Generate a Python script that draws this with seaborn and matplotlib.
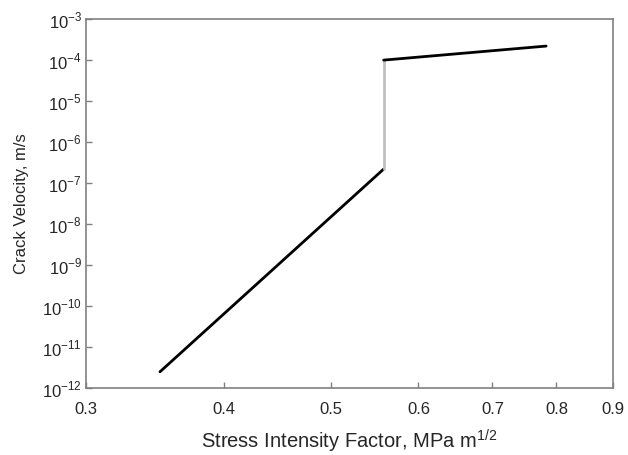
import numpy as np
import pandas as pd
import matplotlib
matplotlib.use("Agg")
import matplotlib.pyplot as plt
import seaborn as sns
from matplotlib.ticker import FixedLocator, FixedFormatter, NullLocator

# dati
k_low = [0.35, 0.558]
v_low = [2.5e-12, 2.2e-7]
k_jump = [0.558, 0.558]
v_jump = [2.2e-7, 1.0e-4]
k_high = [0.558, 0.783]
v_high = [1.0e-4, 2.2e-4]

x_ticks = [0.3, 0.4, 0.5, 0.6, 0.7, 0.8, 0.9]
x_labels = ['0.3', '0.4', '0.5', '0.6', '0.7', '0.8', '0.9']
y_exp = [-12, -11, -10, -9, -8, -7, -6, -5, -4, -3]

sns.set_style("white")
plt.rcParams['font.family'] = ['Liberation Sans', 'DejaVu Sans']
plt.rcParams['mathtext.fontset'] = 'custom'
plt.rcParams['mathtext.rm'] = 'Liberation Sans'

fig, ax = plt.subplots(figsize=(6.28, 4.55), dpi=100)

sns.lineplot(x=k_low, y=v_low, ax=ax, color='black', linewidth=2, estimator=None)
sns.lineplot(x=k_jump, y=v_jump, ax=ax, color='#c0c0c0', linewidth=2,
             estimator=None, sort=False)
sns.lineplot(x=k_high, y=v_high, ax=ax, color='black', linewidth=2, estimator=None)

ax.set_xscale('log')
ax.set_yscale('log')
ax.set_xlim(0.3, 0.9)
ax.set_ylim(1e-12, 1e-3)

ax.xaxis.set_major_locator(FixedLocator(x_ticks))
ax.xaxis.set_major_formatter(FixedFormatter(x_labels))
ax.xaxis.set_minor_locator(NullLocator())
ax.yaxis.set_major_locator(FixedLocator([10.0 ** e for e in y_exp]))
ax.yaxis.set_major_formatter(FixedFormatter(['$10^{%d}$' % e for e in y_exp]))
ax.yaxis.set_minor_locator(NullLocator())

for s in ax.spines.values():
    s.set_color('#808080')
    s.set_linewidth(1.2)
ax.tick_params(direction='in', length=4, width=1, color='#808080', labelsize=12,
               bottom=True, left=True)
ax.tick_params(axis='x', pad=10)
ax.tick_params(axis='y', pad=3)

ax.set_xlabel('Stress Intensity Factor, MPa m$^{1/2}$', fontsize=14.5, labelpad=8)
ax.set_ylabel('Crack Velocity, m/s', fontsize=12, labelpad=9)

fig.subplots_adjust(left=0.137, right=0.976, top=0.958, bottom=0.147)
fig.savefig('out.png', dpi=100)
